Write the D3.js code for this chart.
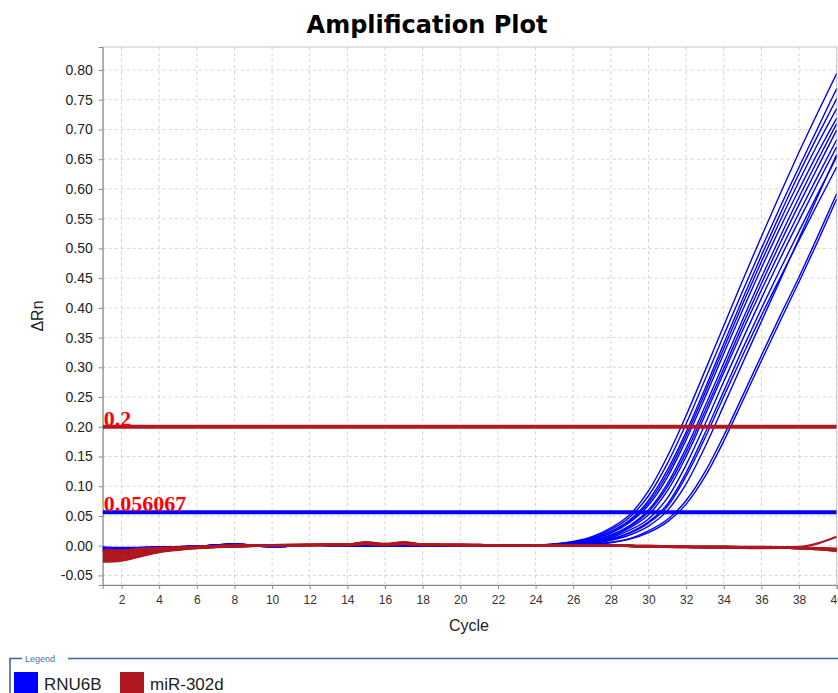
<!DOCTYPE html>
<html>
<head>
<meta charset="utf-8">
<script src="https://cdn.jsdelivr.net/npm/d3@7"></script>
<style>
  body { margin: 0; background: #fff; }
  svg { display: block; }
</style>
</head>
<body>
<div id="chart"></div>
<script>
// cycles the blue (RNU6B) curves are sampled at
const blueCycles = [1, 2, 4, 6, 8, 10, 12, 14, 16, 18, 20, 22,
  24, 25, 26, 27, 28, 29, 30, 31, 32, 33, 34, 35, 36, 37, 38, 39, 40];

// RNU6B wells, delta Rn per cycle
const rnu6b = [
  [-0.002,-0.003,-0.002,-0.001,0.002,-0.001,0.001,0.000,-0.001,-0.001,-0.001,0.000, .001,.003,.007,.015,.030,.052,.092,.150,.219,.294,.370,.446,.520,.592,.662,.729,.794],
  [-0.004,-0.004,-0.002,-0.001,0.002,0.000,0.001,0.000,-0.001,-0.001,0.000,0.000, .001,.003,.006,.013,.027,.048,.084,.138,.205,.279,.354,.428,.500,.570,.637,.703,.769],
  [-0.006,-0.005,-0.003,-0.001,0.003,-0.001,0.001,-0.001,-0.001,-0.001,-0.001,0.000, .001,.002,.005,.012,.024,.043,.076,.127,.191,.264,.340,.415,.488,.558,.626,.690,.752],
  [-0.008,-0.007,-0.003,-0.001,0.002,-0.002,0.001,0.000,-0.001,-0.001,-0.001,0.000, .001,.002,.005,.011,.022,.041,.072,.121,.185,.257,.332,.406,.478,.547,.613,.676,.735],
  [-0.009,-0.008,-0.004,-0.002,0.001,-0.001,0.001,0.000,-0.001,0.000,-0.001,0.000, .001,.002,.005,.011,.021,.039,.068,.115,.178,.249,.323,.396,.467,.535,.599,.661,.719],
  [-0.005,-0.005,-0.003,-0.001,0.002,-0.001,0.001,0.000,-0.001,-0.001,-0.001,0.000, .001,.002,.004,.009,.018,.034,.060,.104,.164,.234,.307,.380,.451,.520,.586,.649,.710],
  [-0.007,-0.006,-0.003,-0.001,0.002,-0.002,0.001,-0.001,-0.001,-0.001,0.000,0.000, .000,.002,.004,.009,.017,.032,.057,.099,.157,.226,.298,.371,.441,.509,.574,.637,.699],
  [-0.003,-0.004,-0.002,-0.001,0.003,-0.001,0.001,0.000,-0.001,-0.001,-0.001,0.000, .000,.001,.003,.007,.015,.030,.052,.092,.150,.219,.291,.362,.430,.496,.560,.622,.683],
  [-0.010,-0.008,-0.004,-0.002,0.001,-0.001,0.001,0.000,0.000,-0.001,-0.001,0.000, .000,.001,.003,.006,.013,.026,.045,.080,.136,.204,.276,.347,.416,.483,.547,.610,.671],
  [-0.006,-0.006,-0.003,-0.001,0.002,-0.002,0.001,0.000,-0.001,-0.001,-0.001,0.000, .000,.001,.002,.005,.011,.022,.040,.070,.123,.189,.260,.331,.399,.465,.529,.592,.654],
  [-0.008,-0.007,-0.003,-0.001,0.002,-0.001,0.001,-0.001,-0.001,-0.001,-0.001,0.000, .000,.001,.002,.005,.010,.021,.038,.066,.117,.181,.251,.320,.387,.451,.514,.576,.637],
  [-0.004,-0.005,-0.002,-0.001,0.003,-0.001,0.001,0.000,-0.001,-0.001,0.000,0.000, .000,.001,.002,.004,.009,.018,.033,.059,.104,.166,.236,.307,.377,.447,.517,.588,.658],
  [-0.007,-0.007,-0.004,-0.001,0.002,-0.002,0.001,0.000,-0.001,-0.001,-0.001,0.000, .000,.000,.001,.003,.006,.012,.025,.044,.076,.124,.185,.252,.320,.387,.452,.521,.592],
  [-0.005,-0.006,-0.003,-0.001,0.002,-0.001,0.001,0.000,-0.001,-0.001,-0.001,0.000, .000,.000,.001,.002,.005,.011,.022,.040,.070,.116,.176,.243,.311,.378,.444,.512,.583]
];

// cycles the red (miR-302d) curves are sampled at
const redCycles = [1, 2, 3, 4, 5, 6, 8, 10, 12, 14, 15, 16, 17, 18, 20, 22, 24, 26, 28, 30, 32, 34, 36, 38, 39, 40];

const mir302d = [
  [-0.027,-0.025,-0.018,-0.011,-0.007,-0.004,-0.001,0.001,0.002,0.002,0.005,0.003,0.005,0.002,0.002,0.001,0.001,0.001,0.000,-0.001,-0.002,-0.003,-0.003,-0.004,-0.006,-0.008],
  [-0.025,-0.024,-0.017,-0.010,-0.006,-0.004,-0.001,0.001,0.002,0.002,0.006,0.003,0.006,0.002,0.001,0.001,0.001,0.000,0.000,-0.001,-0.002,-0.002,-0.003,-0.003,-0.005,-0.007],
  [-0.022,-0.022,-0.015,-0.009,-0.006,-0.003,-0.001,0.001,0.002,0.002,0.004,0.002,0.004,0.002,0.002,0.001,0.001,0.001,0.000,-0.001,-0.003,-0.003,-0.004,-0.002,0.004,0.015],
  [-0.020,-0.020,-0.014,-0.009,-0.005,-0.003,-0.001,0.000,0.001,0.002,0.004,0.002,0.004,0.002,0.001,0.001,0.001,0.000,0.000,-0.001,-0.002,-0.002,-0.003,-0.004,-0.005,-0.006],
  [-0.017,-0.017,-0.012,-0.008,-0.005,-0.003,-0.001,0.000,0.001,0.002,0.004,0.002,0.004,0.002,0.001,0.001,0.001,0.000,0.000,-0.001,-0.002,-0.002,-0.003,-0.004,-0.005,-0.006],
  [-0.015,-0.015,-0.011,-0.007,-0.004,-0.003,-0.001,0.000,0.001,0.002,0.003,0.002,0.003,0.002,0.001,0.001,0.001,0.000,0.000,-0.001,-0.002,-0.003,-0.003,-0.004,-0.006,-0.009],
  [-0.013,-0.013,-0.010,-0.007,-0.004,-0.003,-0.001,0.000,0.001,0.002,0.003,0.002,0.003,0.002,0.001,0.001,0.001,0.000,0.000,-0.001,-0.002,-0.003,-0.003,-0.004,-0.006,-0.008],
  [-0.011,-0.011,-0.008,-0.006,-0.004,-0.002,0.000,0.000,0.001,0.001,0.003,0.002,0.003,0.002,0.001,0.001,0.001,0.001,0.000,0.000,-0.002,-0.002,-0.002,-0.003,-0.004,-0.005],
  [-0.010,-0.010,-0.007,-0.005,-0.003,-0.002,0.000,0.001,0.001,0.002,0.004,0.002,0.004,0.002,0.002,0.001,0.001,0.001,0.000,-0.001,-0.002,-0.003,-0.003,-0.003,-0.005,-0.007],
  [-0.009,-0.009,-0.006,-0.004,-0.003,-0.002,0.000,0.000,0.001,0.001,0.003,0.001,0.003,0.001,0.001,0.001,0.000,0.000,0.000,-0.001,-0.002,-0.002,-0.003,-0.004,-0.005,-0.006],
  [-0.008,-0.008,-0.005,-0.004,-0.003,-0.002,0.000,0.000,0.001,0.001,0.003,0.001,0.003,0.001,0.001,0.001,0.000,0.000,0.000,-0.001,-0.002,-0.002,-0.003,-0.004,-0.005,-0.006]
];

const thresholds = [
  {name: "RNU6B", value: 0.056067, label: "0.056067"},
  {name: "miR-302d", value: 0.2, label: "0.2"}
];
const targets = ["RNU6B", "miR-302d"];
const colours = ["#0000ff", "#b0171e"];
const xTicks = d3.range(2, 41, 2);
const yTicks = d3.range(-0.05, 0.801, 0.05);

// dimensions
const W = 838, H = 693;
const plot = {left: 102.7, right: 836.7, top: 47, bottom: 585};

const svg = d3.select("#chart").append("svg")
    .attr("width", W)
    .attr("height", H)
    .style("font-family", "'Liberation Sans', Arial, sans-serif");

const x = d3.scaleLinear().domain([1, 40]).range([plot.left, plot.right]);
const y = d3.scaleLinear().domain([-0.0661, 0.8387]).range([plot.bottom, plot.top]);
const colour = d3.scaleOrdinal().domain(targets).range(colours);

// title
svg.append("text")
    .attr("x", 427).attr("y", 33)
    .attr("text-anchor", "middle")
    .style("font-family", "'DejaVu Sans', Verdana, sans-serif")
    .style("font-weight", "bold")
    .style("font-size", "24px")
    .text("Amplification Plot");

// grid
const grid = svg.append("g");
grid.selectAll("line.gx").data(xTicks).join("line")
    .attr("class", "gx")
    .attr("x1", d => x(d)).attr("x2", d => x(d))
    .attr("y1", plot.top).attr("y2", plot.bottom)
    .attr("stroke", "#d4d4d4").attr("stroke-dasharray", "3,3");
grid.selectAll("line.gy").data(yTicks).join("line")
    .attr("class", "gy")
    .attr("x1", plot.left).attr("x2", plot.right)
    .attr("y1", d => y(d)).attr("y2", d => y(d))
    .attr("stroke", "#d4d4d4").attr("stroke-dasharray", "3,3");

// frame
svg.append("rect")
    .attr("x", plot.left).attr("y", plot.top)
    .attr("width", plot.right - plot.left).attr("height", plot.bottom - plot.top)
    .attr("fill", "none").attr("stroke", "#c4c4c4");

// axes
const fmt = d3.format(".2f");
const yAxis = svg.append("g")
    .attr("transform", `translate(${plot.left},0)`)
    .call(d3.axisLeft(y).tickValues(yTicks)
      .tickFormat(d => fmt(d).replace("\u2212", "-"))
      .tickSize(4).tickPadding(6));
yAxis.selectAll("text").style("font-size", "14px").attr("fill", "#222");

const xAxis = svg.append("g")
    .attr("transform", `translate(0,${plot.bottom})`)
    .call(d3.axisBottom(x).tickValues(xTicks).tickSize(4).tickPadding(6));
xAxis.selectAll("text").style("font-size", "12px").attr("fill", "#333");

svg.selectAll(".domain").attr("stroke", "#888");
svg.selectAll(".tick line").attr("stroke", "#888");

svg.append("text")
    .attr("x", 469).attr("y", 631)
    .attr("text-anchor", "middle")
    .style("font-size", "16px")
    .attr("fill", "#222")
    .text("Cycle");

svg.append("text")
    .attr("transform", "translate(43,316) rotate(-90)")
    .attr("text-anchor", "middle")
    .style("font-size", "16px")
    .attr("fill", "#222")
    .text("ΔRn");

// curves
svg.append("clipPath").attr("id", "clip")
  .append("rect")
    .attr("x", plot.left).attr("y", plot.top)
    .attr("width", plot.right - plot.left).attr("height", plot.bottom - plot.top);

const area = svg.append("g").attr("clip-path", "url(#clip)");

const blueLine = d3.line()
    .x((d, i) => x(blueCycles[i]))
    .y(d => y(d))
    .curve(d3.curveMonotoneX);
const redLine = d3.line()
    .x((d, i) => x(redCycles[i]))
    .y(d => y(d))
    .curve(d3.curveMonotoneX);

area.append("g").selectAll("path").data(rnu6b).join("path")
    .attr("d", blueLine)
    .attr("fill", "none")
    .attr("stroke", colour("RNU6B"))
    .attr("stroke-width", 1.4);

area.append("g").selectAll("path").data(mir302d).join("path")
    .attr("d", redLine)
    .attr("fill", "none")
    .attr("stroke", colour("miR-302d"))
    .attr("stroke-width", 2.2);

// thresholds
area.append("g").selectAll("line").data(thresholds).join("line")
    .attr("x1", plot.left).attr("x2", plot.right)
    .attr("y1", d => y(d.value)).attr("y2", d => y(d.value))
    .attr("stroke", d => colour(d.name))
    .attr("stroke-width", 4);

svg.append("g").selectAll("text").data(thresholds).join("text")
    .attr("x", plot.left + 1)
    .attr("y", d => y(d.value) - 1)
    .attr("fill", "#ff0000")
    .style("font-family", "'Liberation Serif', 'Times New Roman', serif")
    .style("font-weight", "bold")
    .style("font-size", "22px")
    .text(d => d.label);

// legend
const lg = svg.append("g");
lg.append("path")
    .attr("d", "M10,693 V658.5 H22 M68,658.5 H838")
    .attr("fill", "none")
    .attr("stroke", "#3d6a9e")
    .attr("stroke-width", 1.6);
lg.append("text")
    .attr("x", 25).attr("y", 661.5)
    .style("font-size", "9px")
    .attr("fill", "#4a74a8")
    .text("Legend");

const items = lg.selectAll("g.item").data(targets).join("g")
    .attr("class", "item")
    .attr("transform", (d, i) => `translate(${[14, 120][i]},672)`);
items.append("rect")
    .attr("width", 24).attr("height", 22)
    .attr("fill", d => colour(d));
items.append("text")
    .attr("x", 30).attr("y", 18)
    .style("font-size", "17px")
    .attr("fill", "#222")
    .text(d => d);
</script>
</body>
</html>
